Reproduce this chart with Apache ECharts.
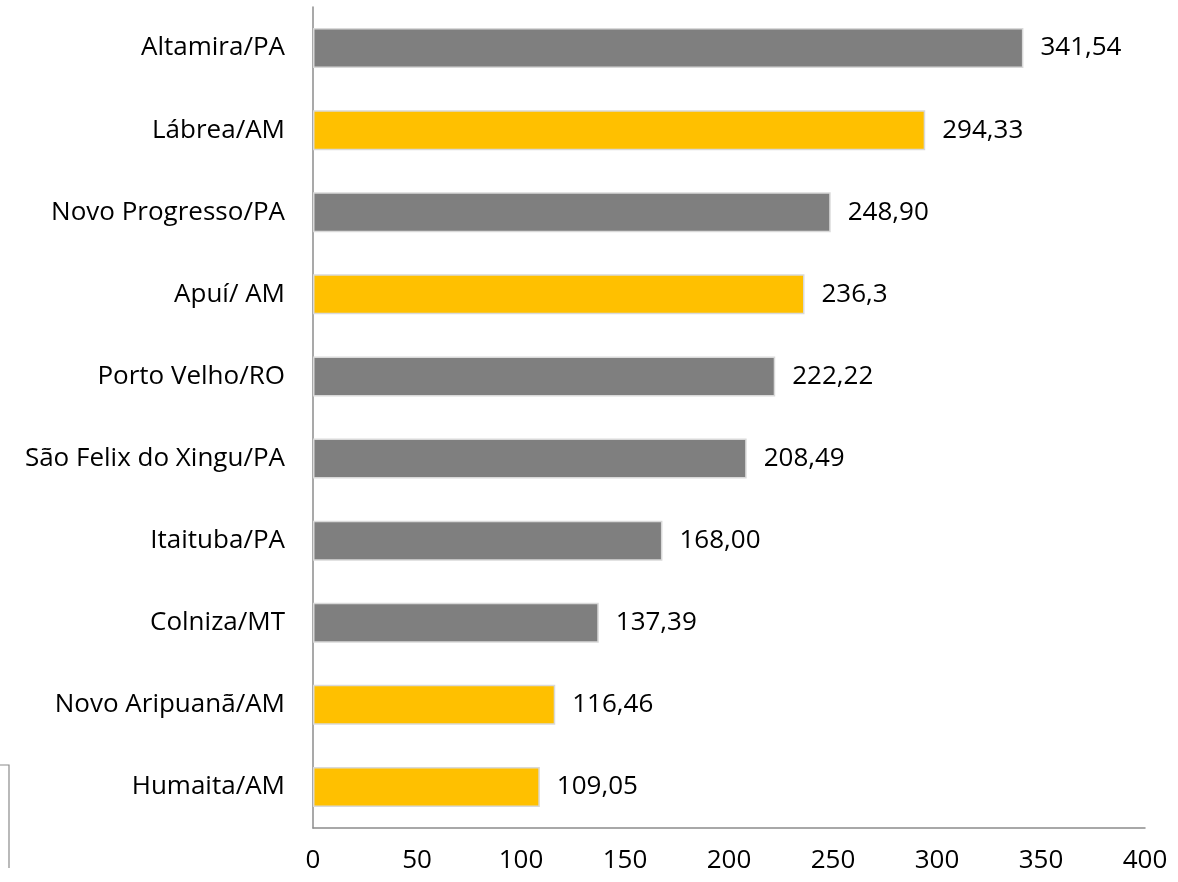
<!DOCTYPE html>
<html>
<head>
<meta charset="utf-8">
<script src="https://cdn.jsdelivr.net/npm/echarts@6/dist/echarts.min.js"></script>
<style>
  html, body { margin: 0; padding: 0; background: #fff; }
  #main { width: 1178px; height: 882px; }
</style>
</head>
<body>
<div id="main"></div>
<script>
var municipios = ['Altamira/PA', 'Lábrea/AM', 'Novo Progresso/PA', 'Apuí/ AM', 'Porto Velho/RO',
    'São Felix do Xingu/PA', 'Itaituba/PA', 'Colniza/MT', 'Novo Aripuanã/AM', 'Humaita/AM'];
var valores = [341.54, 294.33, 248.90, 236.3, 222.22, 208.49, 168.00, 137.39, 116.46, 109.05];
var rotulos = ['341,54', '294,33', '248,90', '236,3', '222,22', '208,49', '168,00', '137,39', '116,46', '109,05'];
// AM em amarelo, resto cinza
var cores = ['#7f7f7f', '#ffc000', '#7f7f7f', '#ffc000', '#7f7f7f', '#7f7f7f', '#7f7f7f', '#7f7f7f', '#ffc000', '#ffc000'];

var fonte = '"Open Sans", sans-serif';

var chart = echarts.init(document.getElementById('main'));
var option = {
    animation: false,
    grid: {
        left: 313,
        right: 33,
        top: 7,
        bottom: 54
    },
    xAxis: {
        type: 'value',
        min: 0,
        max: 400,
        interval: 50,
        axisLine: { show: true, lineStyle: { color: '#8c8c8c', width: 1.5 } },
        axisTick: { show: false },
        splitLine: { show: false },
        axisLabel: { color: '#000', fontSize: 26, fontFamily: fonte, margin: 20 }
    },
    yAxis: {
        type: 'category',
        inverse: true,
        data: municipios,
        axisLine: { show: true, lineStyle: { color: '#8c8c8c', width: 1.5 } },
        axisTick: { show: false },
        axisLabel: { color: '#000', fontSize: 26, fontFamily: fonte, margin: 28 }
    },
    series: [{
        type: 'bar',
        barWidth: 40,
        data: valores.map(function (v, i) {
            return {
                value: v,
                itemStyle: { color: cores[i], borderColor: '#d9d9d9', borderWidth: 1.5 }
            };
        }),
        label: {
            show: true,
            position: 'right',
            distance: 17,
            color: '#000',
            fontSize: 26,
            fontFamily: fonte,
            formatter: function (p) { return rotulos[p.dataIndex]; }
        }
    }],
    graphic: [{
        type: 'polyline',
        shape: { points: [[0, 765], [9, 765], [9, 868]] },
        style: { stroke: '#8c8c8c', lineWidth: 1.2, fill: null }
    }]
};
chart.setOption(option);
</script>
</body>
</html>
